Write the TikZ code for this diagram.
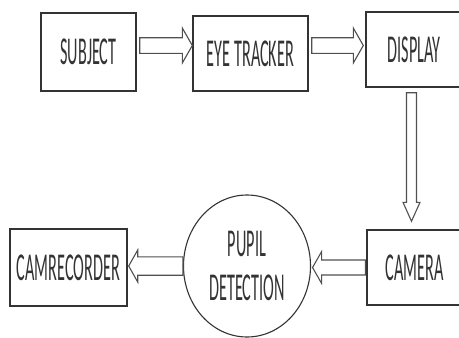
\documentclass[tikz,border=0pt]{standalone}
\usepackage{fontspec}
\setmainfont{Carlito}
\usepackage{graphicx}
\usetikzlibrary{calc,shapes.geometric}
\definecolor{boxc}{HTML}{333333}
\definecolor{arrc}{HTML}{505050}
\definecolor{txtc}{HTML}{333333}
\newcommand\sq[1]{\scalebox{0.41}[1]{#1}}
\newcommand\hollowarrow[5]{%
  \coordinate (hab) at ($(#2)!#5!(#1)$);
  \draw[arrowline] ($(#1)!#3!90:(#2)$) -- ($(hab)!#3!90:(#2)$) -- ($(hab)!#4!90:(#2)$) -- (#2) -- ($(hab)!#4!-90:(#2)$) -- ($(hab)!#3!-90:(#2)$) -- ($(#1)!#3!-90:(#2)$) -- cycle;}
\begin{document}
\begin{tikzpicture}[x=1pt,y=-1pt,
  box/.style={draw=boxc, line width=1.4pt, inner sep=0pt, font=\fontsize{39.5}{44}\selectfont, text=txtc},
  arrowline/.style={draw=arrc, line width=1.1pt, line join=miter}]
\useasboundingbox (0,0) rectangle (459,338);
\clip (0,0) rectangle (459,338);
\node[box, minimum width=95pt, minimum height=78pt] (subj) at (88.5,52) {\sq{SUBJECT}};
\node[box, minimum width=115pt, minimum height=75pt] (eye) at (250.5,53.5) {\sq{EYE TRACKER}};
\node[box, minimum width=96pt, minimum height=75pt] (disp) at (414,49.5) {\sq{DISPLAY}};
\node[box, minimum width=95pt, minimum height=75pt] (cam) at (414.5,267.5) {\sq{CAMERA}};
\node[box, minimum width=117pt, minimum height=77pt] (camrec) at (68.5,267.5) {\sq{CAMRECORDER}};
\node[box, ellipse, line width=1.1pt, minimum width=127pt, minimum height=142pt, align=center] (pupil) at (247,266) {\sq{PUPIL}\\\sq{DETECTION}};
% arrows
\coordinate (a1s) at ($(subj.east)+(3,-6.5)$);
\coordinate (a1e) at (a1s -| eye.west);
\hollowarrow{a1s}{a1e}{7.8pt}{17.5pt}{10pt}
\coordinate (a2s) at ($(eye.east)+(3,-8)$);
\coordinate (a2e) at ($(a2s -| disp.west)+(-2,0)$);
\hollowarrow{a2s}{a2e}{7.8pt}{17.5pt}{10pt}
\coordinate (a3s) at ($(disp.south)+(-2.5,5)$);
\coordinate (a3e) at ($(a3s |- cam.north)+(0,-8)$);
\hollowarrow{a3s}{a3e}{5pt}{8.5pt}{19pt}
\coordinate (a4s) at ($(cam.west)+(-1,0)$);
\coordinate (a4e) at ($(a4s -| pupil.east)+(1.5,0)$);
\hollowarrow{a4s}{a4e}{7.5pt}{15.8pt}{9pt}
\coordinate (a5s) at (pupil.west);
\coordinate (a5e) at ($(a5s -| camrec.east)+(1,0)$);
\hollowarrow{a5s}{a5e}{9.2pt}{16pt}{9pt}
\end{tikzpicture}
\end{document}
